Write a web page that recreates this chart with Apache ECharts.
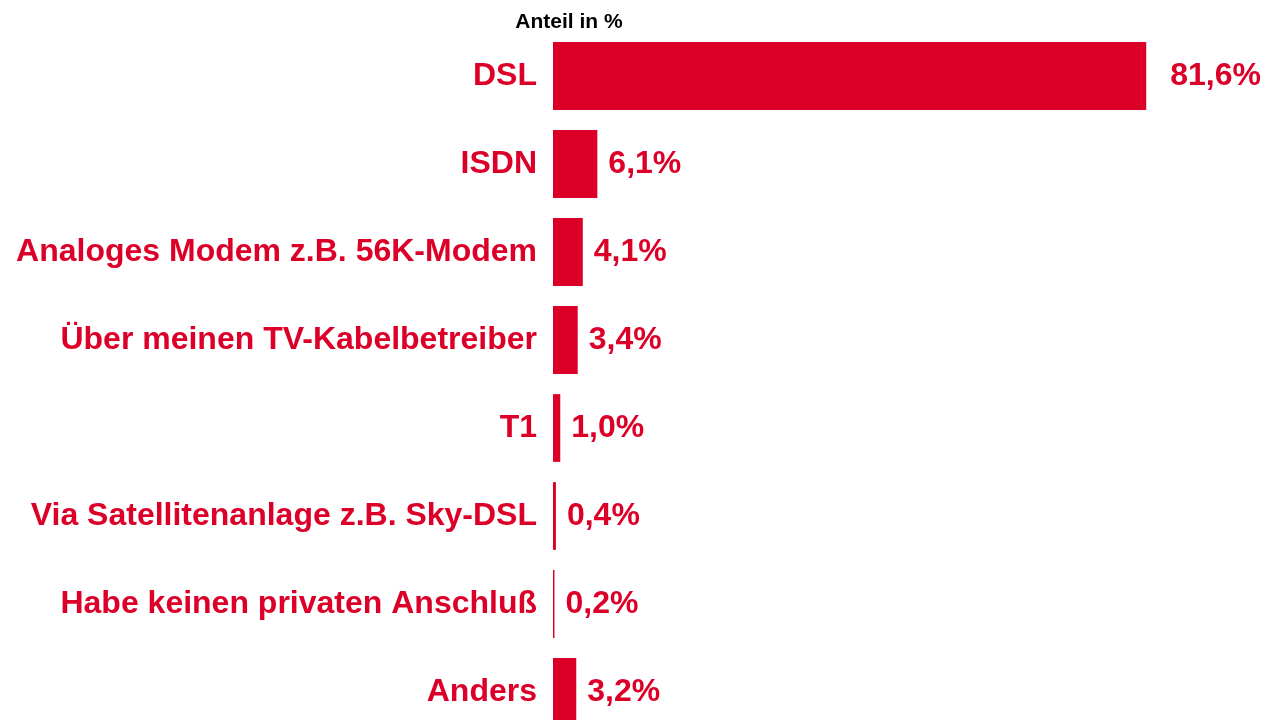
<!DOCTYPE html>
<html>
<head>
<meta charset="utf-8">
<style>
  html, body { margin: 0; padding: 0; background: #fff; overflow: hidden; }
  /* the last bar runs off the bottom edge, so the canvas is a bit taller than the window */
  #chart { width: 1283px; height: 736px; }
</style>
<script src="https://cdn.jsdelivr.net/npm/echarts@6/dist/echarts.min.js"></script>
</head>
<body>
<div id="chart"></div>
<script>
// categories, top to bottom
var categories = [
  'DSL',
  'ISDN',
  'Analoges Modem z.B. 56K-Modem',
  'Über meinen TV-Kabelbetreiber',
  'T1',
  'Via Satellitenanlage z.B. Sky-DSL',
  'Habe keinen privaten Anschluß',
  'Anders'
];
// share in percent
var shares = [81.6, 6.1, 4.1, 3.4, 1.0, 0.4, 0.2, 3.2];

var red = '#dc0029';
var font = '"Liberation Sans", Arial, sans-serif';

var chart = echarts.init(document.getElementById('chart'));
chart.setOption({
  animation: false,
  title: {
    text: 'Anteil in %',
    left: 564,
    top: 7,
    textAlign: 'center',
    textStyle: { fontFamily: font, fontSize: 21, fontWeight: 'bold', color: '#000' }
  },
  grid: {
    left: 553,
    top: 32,
    right: 3,
    bottom: 0,
    containLabel: false
  },
  xAxis: {
    type: 'value',
    min: 0,
    max: 100,
    show: false
  },
  yAxis: {
    type: 'category',
    data: categories,
    inverse: true,
    axisLine: { show: false },
    axisTick: { show: false },
    splitLine: { show: false },
    axisLabel: {
      margin: 16,
      fontFamily: font,
      fontSize: 32,
      fontWeight: 'bold',
      color: red
    }
  },
  series: [{
    type: 'bar',
    // the long DSL bar has its label set a bit further out
    data: shares.map(function (v, i) {
      return i === 0 ? { value: v, label: { distance: 24 } } : v;
    }),
    barCategoryGap: '23%',
    itemStyle: { color: red },
    label: {
      show: true,
      position: 'right',
      distance: 11,
      fontFamily: font,
      fontSize: 32,
      fontWeight: 'bold',
      color: red,
      formatter: function (p) {
        return p.value.toFixed(1).replace('.', ',') + '%';
      }
    }
  }]
});
</script>
</body>
</html>
